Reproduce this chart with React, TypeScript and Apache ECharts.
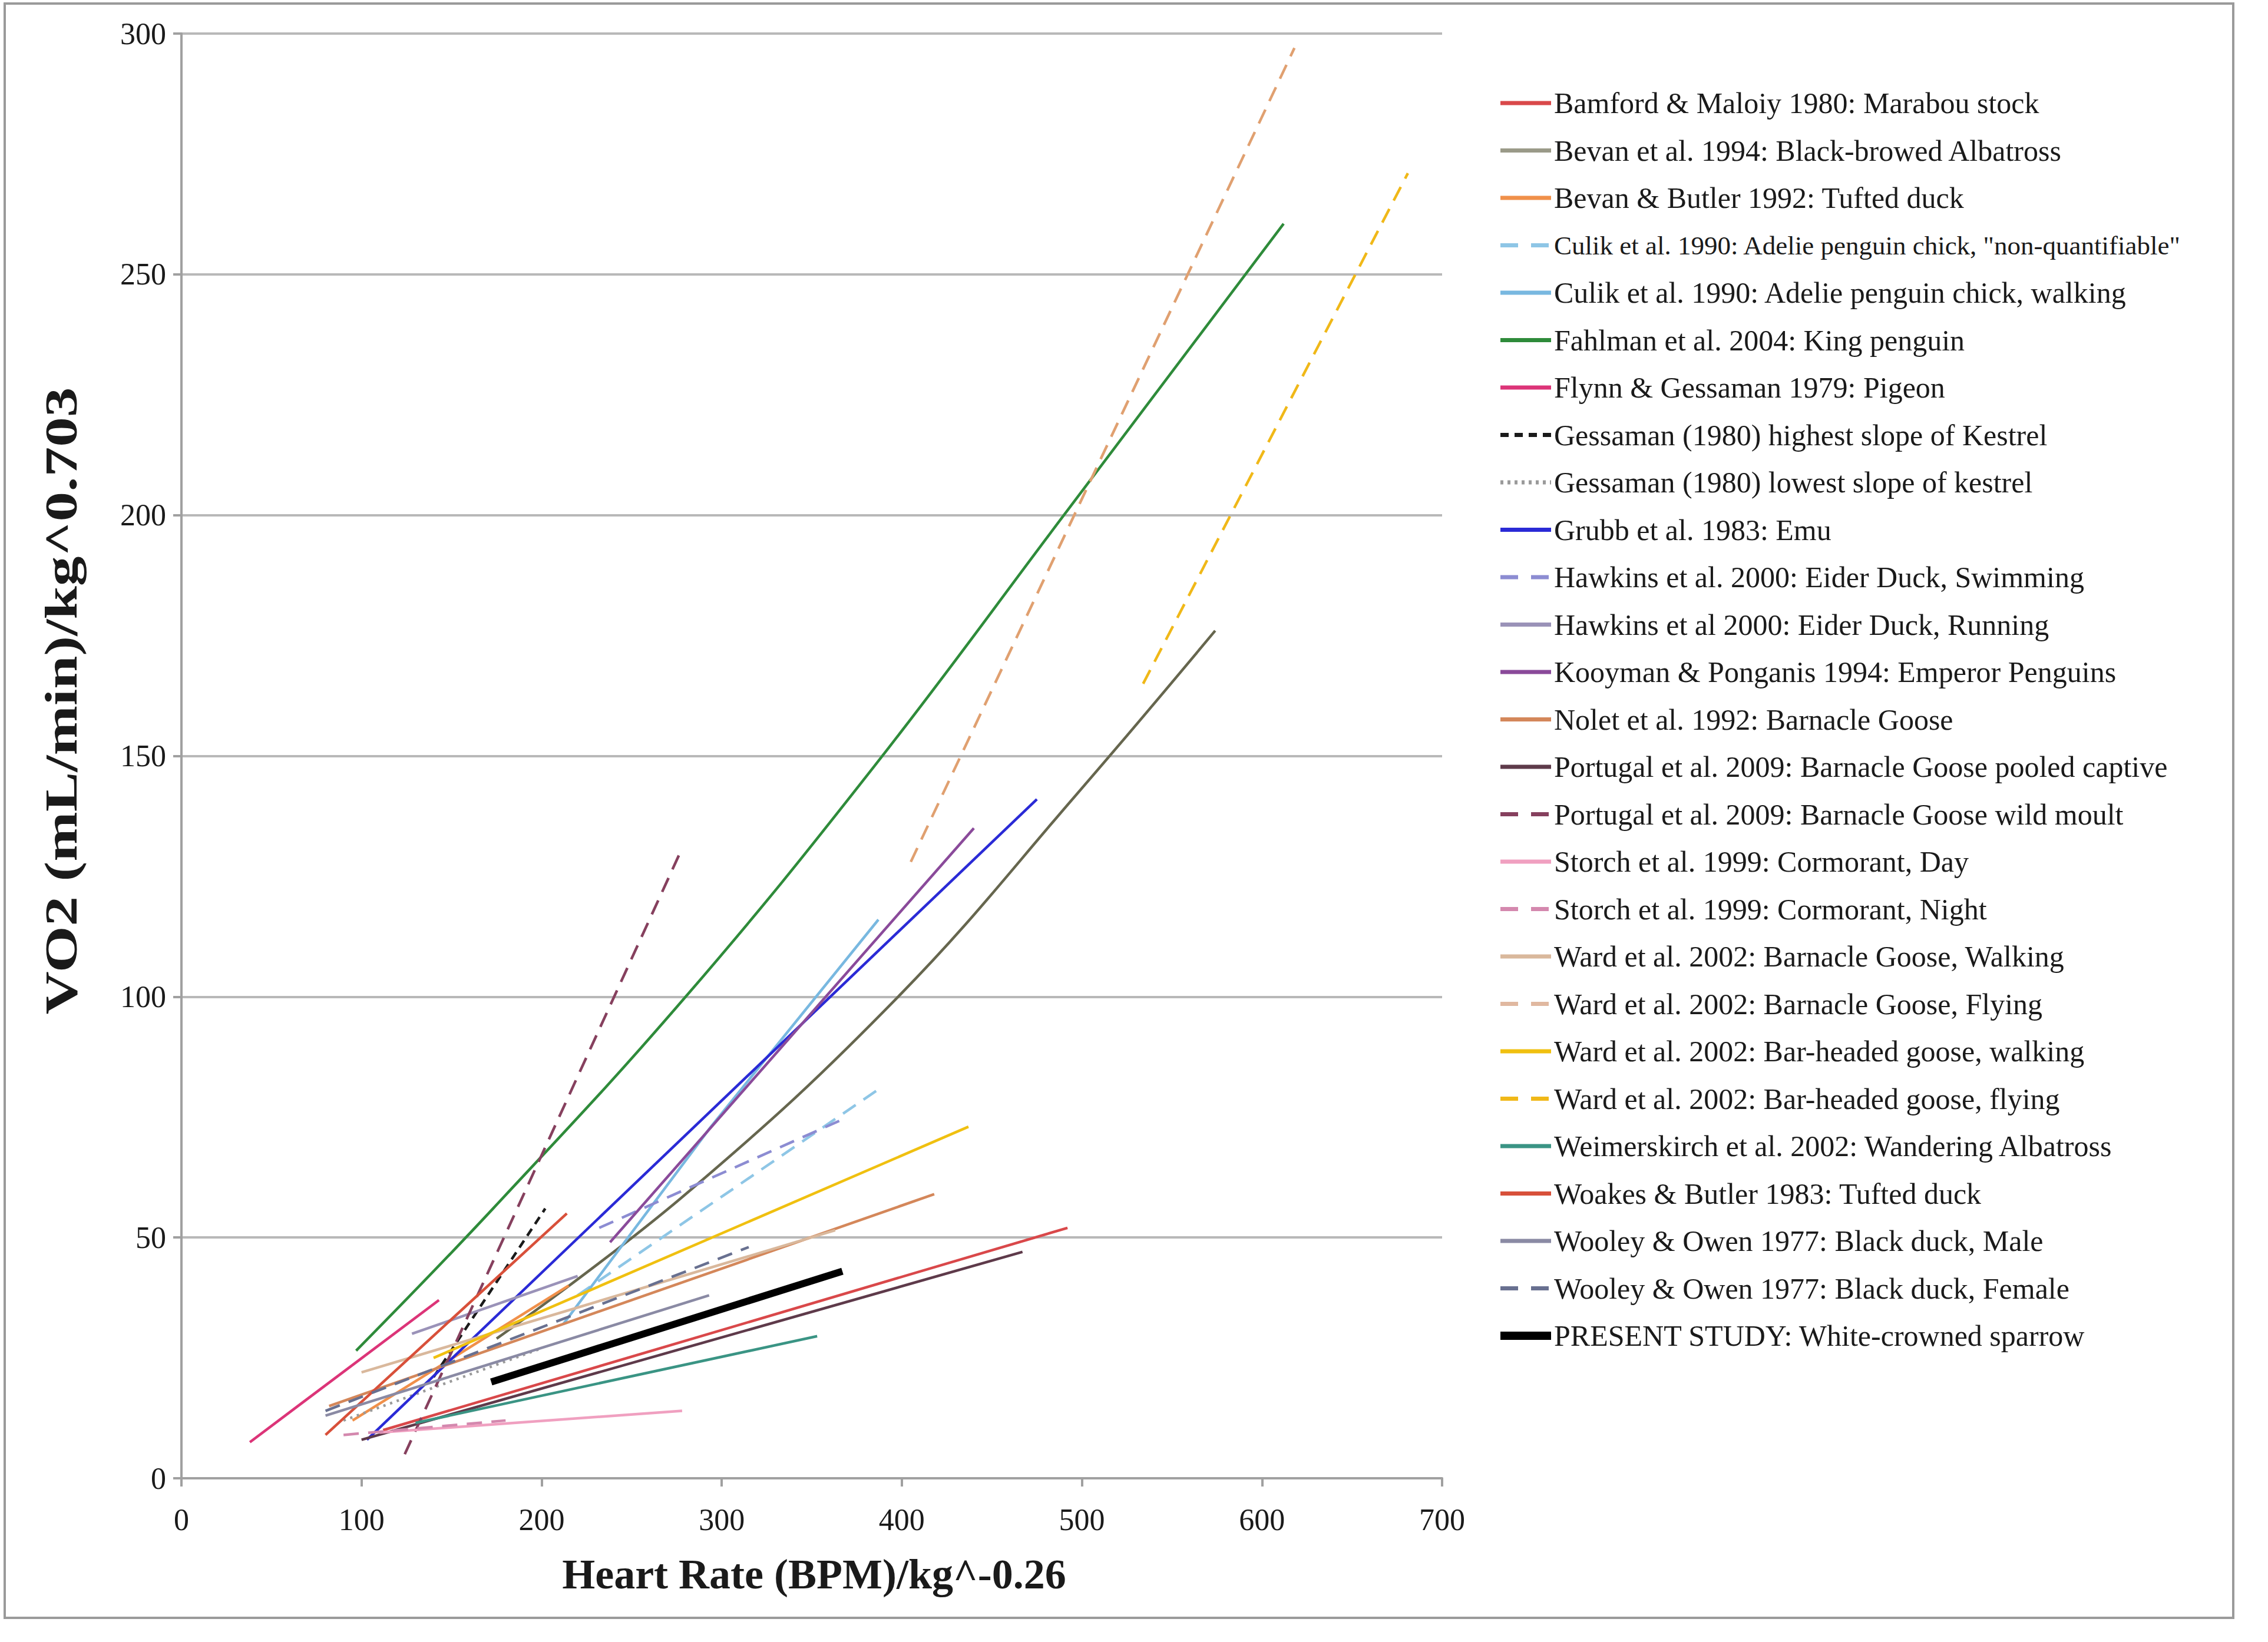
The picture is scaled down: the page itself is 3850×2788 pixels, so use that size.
import React, { useEffect, useRef } from "react";
import * as echarts from "echarts";

// ---- axis ticks ----
const xTickValues = [0, 100, 200, 300, 400, 500, 600, 700];
const yTickValues = [0, 50, 100, 150, 200, 250, 300];

// ---- series names (legend order) ----
const seriesNames = [
  "Bamford & Maloiy 1980: Marabou stock",
  "Bevan et al. 1994: Black-browed Albatross",
  "Bevan & Butler 1992: Tufted duck",
  'Culik et al. 1990: Adelie penguin chick, "non-quantifiable"',
  "Culik et al. 1990: Adelie penguin chick, walking",
  "Fahlman et al. 2004: King penguin",
  "Flynn & Gessaman 1979: Pigeon",
  "Gessaman (1980) highest slope of Kestrel",
  "Gessaman (1980) lowest slope of kestrel",
  "Grubb et al. 1983: Emu",
  "Hawkins et al. 2000: Eider Duck, Swimming",
  "Hawkins et al 2000: Eider Duck, Running",
  "Kooyman & Ponganis 1994: Emperor Penguins",
  "Nolet et al. 1992: Barnacle Goose",
  "Portugal et al. 2009: Barnacle Goose pooled captive",
  "Portugal et al. 2009: Barnacle Goose wild moult",
  "Storch et al. 1999: Cormorant, Day",
  "Storch et al. 1999: Cormorant, Night",
  "Ward et al. 2002: Barnacle Goose, Walking",
  "Ward et al. 2002: Barnacle Goose, Flying",
  "Ward et al. 2002: Bar-headed goose, walking",
  "Ward et al. 2002: Bar-headed goose, flying",
  "Weimerskirch et al. 2002: Wandering Albatross",
  "Woakes & Butler 1983: Tufted duck",
  "Wooley & Owen 1977: Black duck, Male",
  "Wooley & Owen 1977: Black duck, Female",
  "PRESENT STUDY: White-crowned sparrow",
];

// ---- series values: [heart rate, VO2] ----
const bamford = [[112, 10], [492, 52]];
const bevan1994 = [[175, 29], [280, 59], [398, 100], [497, 142], [574, 176]];
const bevanButler = [[95, 12], [215, 40]];
const culikNonQuant = [[220, 38], [388, 81]];
const culikWalking = [[212, 32], [294, 73], [387, 116]];
const fahlman = [[97, 26.5], [173, 56], [280, 100], [385, 148], [490, 200], [612, 260.5]];
const flynn = [[38, 7.5], [143, 37]];
const gessamanHigh = [[140, 21], [202, 56]];
const gessamanLow = [[90, 12], [200, 27]];
const grubb = [[103, 8], [475, 141]];
const hawkinsSwim = [[232, 52], [370, 75]];
const hawkinsRun = [[128, 30], [220, 42]];
const kooyman = [[238, 49], [440, 135]];
const nolet = [[82, 15], [418, 59]];
const portugalCaptive = [[100, 8], [467, 47]];
const portugalWild = [[124, 5], [277, 130]];
const storchDay = [[110, 9.5], [278, 14]];
const storchNight = [[90, 9], [180, 12]];
const wardBGWalk = [[100, 22], [363, 51.5]];
const wardBGFly = [[405, 128], [618, 297]];
const wardBHWalk = [[140, 25], [437, 73]];
const wardBHFly = [[534, 165], [681, 271]];
const weimerskirch = [[130, 11.5], [353, 29.5]];
const woakes = [[80, 9], [214, 55]];
const wooleyMale = [[80, 13], [293, 38]];
const wooleyFemale = [[80, 14], [315, 48]];
const presentStudy = [[172, 20], [367, 43]];

const seriesData = [
  bamford, bevan1994, bevanButler, culikNonQuant, culikWalking, fahlman, flynn,
  gessamanHigh, gessamanLow, grubb, hawkinsSwim, hawkinsRun, kooyman, nolet,
  portugalCaptive, portugalWild, storchDay, storchNight, wardBGWalk, wardBGFly,
  wardBHWalk, wardBHFly, weimerskirch, woakes, wooleyMale, wooleyFemale, presentStudy,
];

// ---- styles ----
const seriesColors = [
  "#d9484a", "#66664e", "#f0904a", "#8ec6e6", "#78b8e0", "#2e8b3a", "#dc3478",
  "#1a1a1a", "#9a9a9a", "#2a2ad6", "#8c8cd2", "#9a92b8", "#8a4a9a", "#d4875a",
  "#5e3a4a", "#86405e", "#f0a0c0", "#d488ae", "#d9b89c", "#e0a070",
  "#f0c010", "#f0b818", "#3a9484", "#d8503a", "#8a8aa4", "#687090", "#000000",
];
const legendColors = [
  "#d9484a", "#9a9a88", "#f0904a", "#8ec6e6", "#78b8e0", "#2e8b3a", "#dc3478",
  "#1a1a1a", "#9a9a9a", "#2a2ad6", "#8c8cd2", "#9a92b8", "#8a4a9a", "#d4875a",
  "#5e3a4a", "#86405e", "#f0a0c0", "#d488ae", "#d9b89c", "#e0b8a0",
  "#f0c010", "#f0b818", "#3a9484", "#d8503a", "#8a8aa4", "#687090", "#000000",
];
const DASH = [26, 16];
const seriesDash: any[] = [
  "solid", "solid", "solid", DASH, "solid", "solid", "solid",
  [14, 10], [4, 8], "solid", DASH, "solid", "solid", "solid",
  "solid", DASH, "solid", DASH, "solid", DASH,
  "solid", DASH, "solid", "solid", "solid", DASH, "solid",
];
const LEGEND_DASH = [30, 22];
const legendDash: any[] = seriesDash.map((d, i) =>
  d === "solid" ? "solid" : i === 7 ? [14, 10] : i === 8 ? [5, 7] : LEGEND_DASH
);
const smoothSeries = [false, true, false, false, false, true, false, false, false, false, false, false, false, false,
  false, false, false, false, false, false, false, false, false, false, false, false, false];

const FONT = "'Liberation Serif', 'Times New Roman', serif";

export default function App() {
  const ref = useRef<HTMLDivElement>(null);

  useEffect(() => {
    document.body.style.margin = "0";
    if (!ref.current) return;
    const chart = echarts.init(ref.current, undefined, { renderer: "svg" });

    const last = seriesNames.length - 1;
    const series = seriesNames.map((name, i) => ({
      name,
      type: "line",
      data: seriesData[i],
      showSymbol: false,
      symbol: "none",
      smooth: smoothSeries[i] ? 0.4 : false,
      z: 2 + i,
      lineStyle: {
        color: seriesColors[i],
        width: i === last ? 12 : 4.5,
        type: seriesDash[i],
        cap: "butt",
      },
      itemStyle: { color: seriesColors[i] },
      emphasis: { disabled: true },
    }));

    const legendData = seriesNames.map((name, i) => ({
      name,
      lineStyle: {
        color: legendColors[i],
        width: i === last ? 14 : 7,
        type: legendDash[i],
        opacity: 1,
      },
      ...(i === 3 ? { textStyle: { fontSize: 45 } } : {}),
    }));

    chart.setOption({
      animation: false,
      backgroundColor: "#ffffff",
      grid: { left: 308, top: 57, width: 2140, height: 2453, containLabel: false },
      xAxis: {
        type: "value",
        min: 0,
        max: 700,
        interval: 100,
        axisLine: { show: true, lineStyle: { color: "#a0a0a0", width: 4 } },
        axisTick: { show: true, length: 14, lineStyle: { color: "#a0a0a0", width: 4 } },
        splitLine: { show: false },
        axisLabel: {
          margin: 44,
          fontFamily: FONT,
          fontSize: 52,
          color: "#1a1a1a",
          formatter: (v: number) => (xTickValues.includes(v) ? String(v) : ""),
        },
      },
      yAxis: {
        type: "value",
        min: 0,
        max: 300,
        interval: 50,
        axisLine: { show: true, lineStyle: { color: "#a0a0a0", width: 4 } },
        axisTick: { show: true, length: 14, lineStyle: { color: "#a0a0a0", width: 4 } },
        splitLine: { show: true, lineStyle: { color: "#b8b8b8", width: 4 } },
        axisLabel: {
          margin: 26,
          fontFamily: FONT,
          fontSize: 52,
          color: "#1a1a1a",
          formatter: (v: number) => (yTickValues.includes(v) ? String(v) : ""),
        },
      },
      legend: {
        orient: "vertical",
        left: 2535,
        top: 142,
        itemWidth: 86,
        itemHeight: 14,
        itemGap: 24.5,
        itemTextGap: 19,
        selectedMode: false,
        itemStyle: { opacity: 0 },
        textStyle: { fontFamily: FONT, fontSize: 50, color: "#1a1a1a", lineHeight: 56 },
        data: legendData,
      },
      graphic: [
        {
          type: "rect",
          shape: { x: 8, y: 6, width: 3783, height: 2741 },
          style: { fill: "none", stroke: "#9a9a9a", lineWidth: 4 },
          z: 0,
          silent: true,
        },
        {
          type: "text",
          x: 104,
          y: 1190,
          rotation: Math.PI / 2,
          scaleX: 1.3,
          style: {
            text: "VO2 (mL/min)/kg^0.703",
            fontFamily: FONT,
            fontSize: 78,
            fontWeight: "bold",
            fill: "#1a1a1a",
            align: "center",
            verticalAlign: "middle",
          },
        },
        {
          type: "text",
          x: 1382,
          y: 2673,
          style: {
            text: "Heart Rate (BPM)/kg^-0.26",
            fontFamily: FONT,
            fontSize: 72,
            fontWeight: "bold",
            fill: "#1a1a1a",
            align: "center",
            verticalAlign: "middle",
          },
        },
      ],
      series,
    });

    return () => chart.dispose();
  }, []);

  return <div ref={ref} style={{ width: 3850, height: 2788 }} />;
}
